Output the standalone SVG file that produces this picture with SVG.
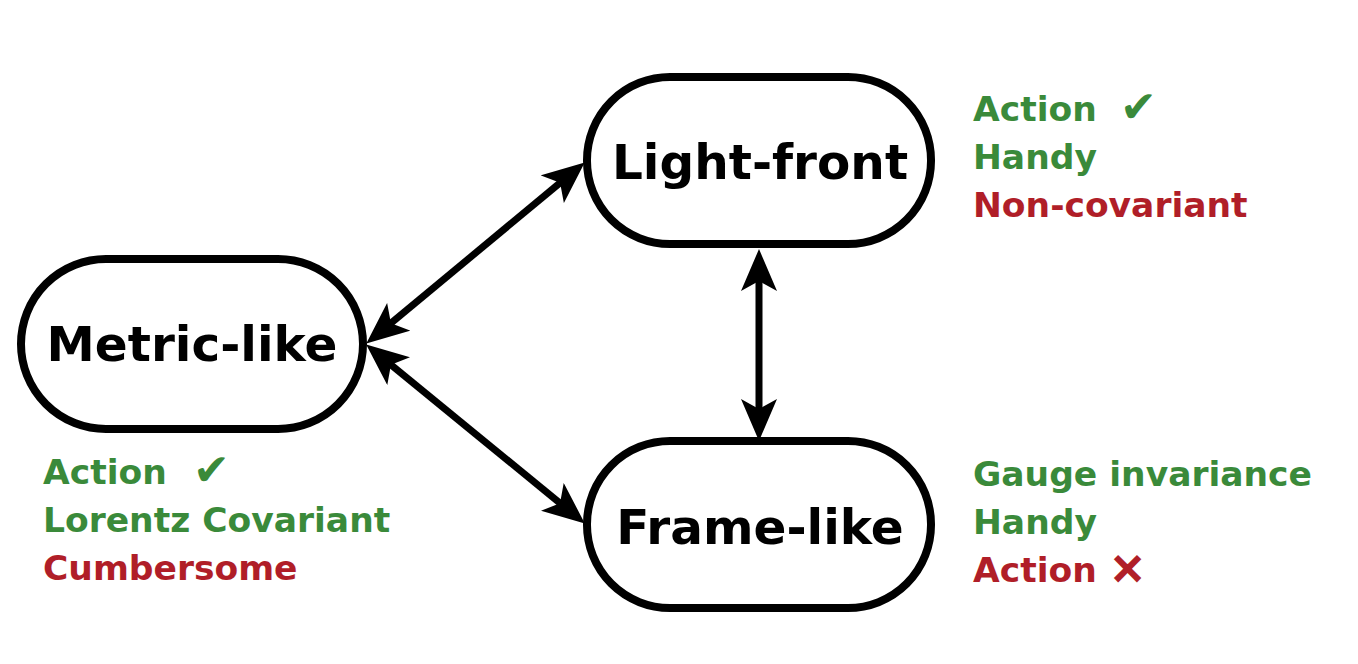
<svg xmlns="http://www.w3.org/2000/svg" width="1358" height="664" viewBox="0 0 1358 664">
<style>
.node{fill:#fff;stroke:#000;stroke-width:8}
.lbl{font-family:"DejaVu Sans",sans-serif;font-weight:bold;font-size:48.5px;fill:#000;text-anchor:middle}
.note{font-family:"DejaVu Sans",sans-serif;font-weight:bold;font-size:34.5px}
.sym{font-family:"DejaVu Sans",sans-serif;font-weight:bold}
.g{fill:#3a8a3a}
.r{fill:#b01e28}
.edge{stroke:#000;stroke-width:7;fill:none;marker-start:url(#ah);marker-end:url(#ah)}
</style>
<defs>
<marker id="ah" viewBox="0 0 42 36" refX="16" refY="18" markerWidth="42" markerHeight="36" markerUnits="userSpaceOnUse" orient="auto-start-reverse">
<path d="M0,0 L42,18 L0,36 L10,18 Z" fill="#000"/>
</marker>
</defs>
<g id="connectors">
<path class="edge" d="M386.3,327 L564.7,179"/>
<path class="edge" d="M386.3,361 L564.7,507"/>
<path class="edge" d="M759,275 L759,415"/>
</g>
<g id="metric-like">
<rect class="node" x="21" y="259" width="342" height="170" rx="85"/>
<text class="lbl" x="192" y="361">Metric-like</text>
</g>
<g id="light-front">
<rect class="node" x="587" y="77" width="344" height="167" rx="83"/>
<text class="lbl" x="760" y="179">Light-front</text>
</g>
<g id="frame-like">
<rect class="node" x="587" y="441" width="344" height="167" rx="83"/>
<text class="lbl" x="760" y="544">Frame-like</text>
</g>
<g id="notes-light-front" class="note">
<text class="g" x="973" y="121">Action</text>
<text class="g sym" x="1120" y="122" font-size="44">✔</text>
<text class="g" x="973" y="169">Handy</text>
<text class="r" x="973" y="217">Non-covariant</text>
</g>
<g id="notes-metric-like" class="note">
<text class="g" x="43" y="484">Action</text>
<text class="g sym" x="193" y="485" font-size="44">✔</text>
<text class="g" x="43" y="532">Lorentz Covariant</text>
<text class="r" x="43" y="580">Cumbersome</text>
</g>
<g id="notes-frame-like" class="note">
<text class="g" x="973" y="486">Gauge invariance</text>
<text class="g" x="973" y="534">Handy</text>
<text class="r" x="973" y="582">Action</text>
<text class="r sym" x="1110" y="584" font-size="42" stroke="#b01e28" stroke-width="2">✕</text>
</g>
</svg>
